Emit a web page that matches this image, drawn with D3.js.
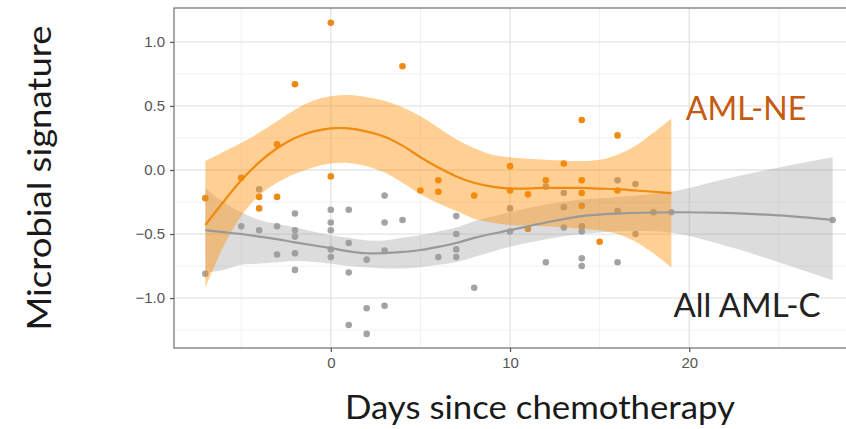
<!DOCTYPE html>
<html><head><meta charset="utf-8">
<script src="https://cdn.jsdelivr.net/npm/d3@7"></script>
<style>body{margin:0;background:#fff}svg{display:block}</style>
</head><body>
<svg id="c" width="846" height="429"></svg>
<script>
// ---- data ----
const xTicks = [0, 10, 20];
const yTicks = [-1.0, -0.5, 0.0, 0.5, 1.0];
const xMinor = [-5, 5, 15, 25];
const yMinor = [-1.25, -0.75, -0.25, 0.25, 0.75];

const greyDays = [-7,-5,-4,-4,-3,-3,-2,-2,-2,-2,-2,0,0,0,0,0,1,1,1,1,2,2,2,3,3,3,3,4,6,7,7,7,7,8,10,10,12,12,13,13,13,14,14,14,14,16,16,16,17,17,18,19,28];
const greyVals = [-0.81,-0.44,-0.15,-0.47,-0.44,-0.66,-0.34,-0.47,-0.52,-0.65,-0.78,-0.31,-0.41,-0.47,-0.62,-0.68,-0.31,-0.57,-0.80,-1.21,-0.70,-1.08,-1.28,-0.20,-0.41,-0.63,-1.06,-0.39,-0.68,-0.36,-0.50,-0.62,-0.68,-0.92,-0.30,-0.48,-0.13,-0.72,-0.18,-0.29,-0.45,-0.44,-0.48,-0.69,-0.75,-0.08,-0.32,-0.72,-0.11,-0.50,-0.33,-0.33,-0.39];

const orangeDays = [-7,-5,-4,-4,-3,-3,-2,0,0,4,5,6,6,8,10,10,11,11,12,13,14,14,14,14,15,16,16];
const orangeVals = [-0.22,-0.06,-0.21,-0.30,0.20,-0.21,0.67,1.15,-0.05,0.81,-0.16,-0.08,-0.17,-0.20,0.03,-0.16,-0.19,-0.46,-0.08,0.05,0.39,-0.08,-0.18,-0.28,-0.56,0.27,-0.16];

// smoothed fits
const oFitDays = [-7,-6,-5,-4,-3,-2,-1,0,1,2,3,4,5,6,7,8,9,10,12,14,15,16,17,18,19];
const oFit  = [-0.43,-0.25,-0.08,0.06,0.17,0.25,0.30,0.325,0.325,0.30,0.26,0.19,0.10,0.02,-0.05,-0.10,-0.13,-0.145,-0.14,-0.14,-0.145,-0.15,-0.16,-0.17,-0.18];
const oHi   = [0.07,0.14,0.21,0.29,0.38,0.47,0.54,0.575,0.585,0.57,0.54,0.49,0.42,0.33,0.24,0.17,0.12,0.10,0.08,0.07,0.08,0.12,0.19,0.29,0.40];
const oLo   = [-0.92,-0.60,-0.36,-0.20,-0.10,-0.03,0.02,0.05,0.055,0.03,-0.02,-0.10,-0.19,-0.26,-0.32,-0.38,-0.41,-0.43,-0.44,-0.46,-0.47,-0.50,-0.56,-0.65,-0.76];

const gFitDays = [-7,-6,-5,-4,-3,-2,0,1,2,3,4,5,6,7,8,10,12,14,16,19,22,25,28];
const gFit = [-0.47,-0.485,-0.50,-0.52,-0.54,-0.565,-0.61,-0.635,-0.65,-0.65,-0.64,-0.625,-0.60,-0.57,-0.53,-0.47,-0.41,-0.36,-0.34,-0.33,-0.335,-0.355,-0.39];
const gHi  = [-0.14,-0.25,-0.33,-0.39,-0.42,-0.45,-0.51,-0.53,-0.55,-0.55,-0.53,-0.51,-0.48,-0.45,-0.40,-0.33,-0.27,-0.23,-0.21,-0.17,-0.07,0.02,0.10];
const gLo  = [-0.80,-0.78,-0.74,-0.73,-0.72,-0.71,-0.73,-0.75,-0.76,-0.77,-0.77,-0.76,-0.74,-0.72,-0.68,-0.60,-0.54,-0.50,-0.48,-0.49,-0.59,-0.72,-0.86];

// ---- layout ----
const svg = d3.select("#c");
const L = 174, R = 864, T = 8, B = 348;
const x = d3.scaleLinear().domain([-8.75, 29.75]).range([L, R]);
const y = d3.scaleLinear().domain([-1.39, 1.265]).range([B, T]);

svg.append("defs").append("clipPath").attr("id","clip")
  .append("rect").attr("x",L).attr("y",T).attr("width",R-L).attr("height",B-T);

const grid = svg.append("g");
grid.selectAll(".ym").data(yMinor).join("line")
  .attr("x1",L).attr("x2",R).attr("y1",d=>y(d)).attr("y2",d=>y(d))
  .attr("stroke","#f0f0f0").attr("stroke-width",1);
grid.selectAll(".xm").data(xMinor).join("line")
  .attr("y1",T).attr("y2",B).attr("x1",d=>x(d)).attr("x2",d=>x(d))
  .attr("stroke","#f0f0f0").attr("stroke-width",1);
grid.selectAll(".yM").data(yTicks).join("line")
  .attr("x1",L).attr("x2",R).attr("y1",d=>y(d)).attr("y2",d=>y(d))
  .attr("stroke","#e4e4e4").attr("stroke-width",1.3);
grid.selectAll(".xM").data(xTicks).join("line")
  .attr("y1",T).attr("y2",B).attr("x1",d=>x(d)).attr("x2",d=>x(d))
  .attr("stroke","#e4e4e4").attr("stroke-width",1.3);

const plot = svg.append("g").attr("clip-path","url(#clip)");

// points
plot.selectAll(".gp").data(greyDays.map((d,i)=>[d,greyVals[i]])).join("circle")
  .attr("cx",d=>x(d[0])).attr("cy",d=>y(d[1])).attr("r",3.3).attr("fill","#a3a3a3");
plot.selectAll(".op").data(orangeDays.map((d,i)=>[d,orangeVals[i]])).join("circle")
  .attr("cx",d=>x(d[0])).attr("cy",d=>y(d[1])).attr("r",3.3).attr("fill","#ec8a14");

const curve = d3.curveCatmullRom.alpha(0.5);
const area = d3.area().x(d=>x(d.d)).y0(d=>y(d.lo)).y1(d=>y(d.hi)).curve(curve);
const line = d3.line().x(d=>x(d.d)).y(d=>y(d.f)).curve(curve);

const gData = gFitDays.map((d,i)=>({d, f:gFit[i], lo:gLo[i], hi:gHi[i]}));
const oData = oFitDays.map((d,i)=>({d, f:oFit[i], lo:oLo[i], hi:oHi[i]}));

plot.append("path").datum(gData).attr("d",area).attr("fill","#9a9a9a").attr("fill-opacity",0.35);
plot.append("path").datum(oData).attr("d",area).attr("fill","#ff8c00").attr("fill-opacity",0.42);
plot.append("path").datum(gData).attr("d",line).attr("fill","none").attr("stroke","#999999").attr("stroke-width",2.2);
plot.append("path").datum(oData).attr("d",line).attr("fill","none").attr("stroke","#f08a10").attr("stroke-width",2.2);

// border
svg.append("rect").attr("x",L).attr("y",T).attr("width",R-L).attr("height",B-T)
  .attr("fill","none").attr("stroke","#6e6e6e").attr("stroke-width",1.2);

// axes
const xAxis = d3.axisBottom(x).tickValues(xTicks).tickFormat(d3.format("d")).tickSize(4).tickPadding(5);
const yAxis = d3.axisLeft(y).tickValues(yTicks).tickFormat(d=>d3.format(".1f")(d).replace("-","\u2212")).tickSize(4).tickPadding(5);
const gx = svg.append("g").attr("transform",`translate(0,${B})`).call(xAxis);
const gy = svg.append("g").attr("transform",`translate(${L},0)`).call(yAxis);
[gx,gy].forEach(g=>{
  g.select(".domain").remove();
  g.selectAll(".tick line").attr("stroke","#555").attr("stroke-width",1.2);
  g.selectAll(".tick text").attr("fill","#555").style("font-family","'Liberation Sans',Arial,sans-serif").style("font-size","15px");
});

// titles
svg.append("text").attr("x",540).attr("y",419).attr("text-anchor","middle")
  .style("font-family","Lato,'Open Sans',sans-serif").style("font-size","33px").attr("fill","#1a1a1a")
  .attr("textLength",390).attr("lengthAdjust","spacingAndGlyphs")
  .text("Days since chemotherapy");
svg.append("text").attr("transform","translate(51,178) rotate(-90)").attr("text-anchor","middle")
  .style("font-family","Lato,'Open Sans',sans-serif").style("font-size","33px").attr("fill","#1a1a1a")
  .attr("textLength",305).attr("lengthAdjust","spacingAndGlyphs")
  .text("Microbial signature");

svg.append("text").attr("x",746).attr("y",120).attr("text-anchor","middle")
  .style("font-family","Lato,'Open Sans',sans-serif").style("font-size","32px").attr("fill","#c55a11")
  .text("AML-NE");
svg.append("text").attr("x",747).attr("y",317).attr("text-anchor","middle")
  .style("font-family","Lato,'Open Sans',sans-serif").style("font-size","33px").attr("fill","#222")
  .text("All AML-C");
</script>
</body></html>
